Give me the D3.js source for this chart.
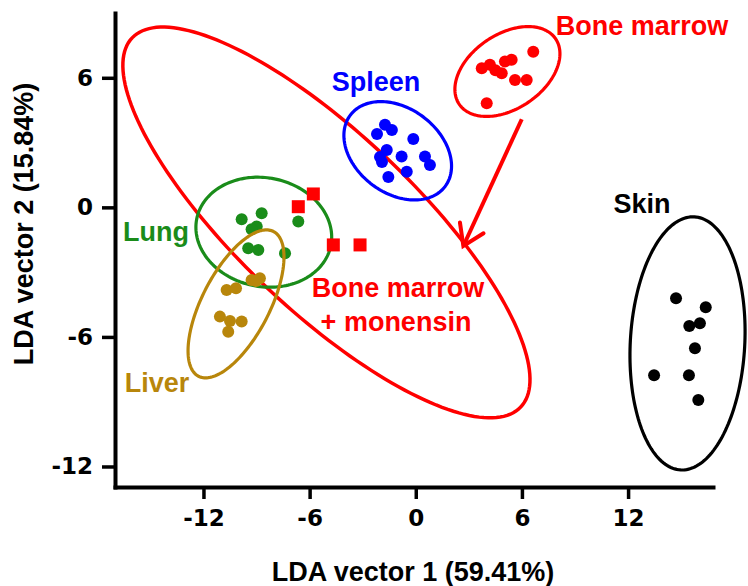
<!DOCTYPE html>
<html>
<head>
<meta charset="utf-8">
<script src="https://cdn.jsdelivr.net/npm/d3@7"></script>
<style>
  body { margin: 0; background: #fff; }
  svg { display: block; }
</style>
</head>
<body>
<div class="chart"></div>
<script>
// LDA scatter of tissue groups with confidence ellipses

// axis ticks
var xTicks = [-12, -6, 0, 6, 12];
var yTicks = [-12, -6, 0, 6];

// points [LDA1, LDA2]
var boneMarrow = [[6.64, 7.21], [3.73, 6.44], [4.19, 6.60], [5.04, 6.75], [5.42, 6.83],
                  [4.86, 6.21], [5.61, 5.90], [6.27, 5.90], [4.01, 4.82], [4.50, 6.35]];
var spleen = [[-1.74, 3.82], [-1.35, 3.58], [-2.19, 3.40], [-0.14, 3.17], [-1.64, 2.66],
              [-2.02, 2.33], [-1.91, 2.10], [-0.80, 2.35], [0.52, 2.35], [0.80, 1.96],
              [-0.51, 1.65], [-1.55, 1.41]];
var lung = [[-9.84, -0.55], [-8.71, -0.27], [-8.99, -0.89], [-9.28, -1.01],
            [-9.47, -1.89], [-8.90, -1.97], [-7.39, -2.13], [-6.64, -0.66]];
var liver = [[-9.28, -3.36], [-8.81, -3.28], [-10.69, -3.83], [-10.16, -3.75], [-9.03, -3.41],
             [-11.07, -5.06], [-10.50, -5.26], [-9.84, -5.29], [-10.60, -5.76]];
var skin = [[14.71, -4.21], [16.39, -4.63], [15.46, -5.49], [16.06, -5.37],
            [15.78, -6.53], [13.47, -7.78], [15.44, -7.78], [15.97, -8.92]];
var monensin = [[-5.79, 0.62], [-6.64, 0.03], [-4.66, -1.74], [-3.15, -1.74]];

// ellipses: centre x, centre y, then two conjugate half-axes (ux, uy, vx, vy), data units
var ellBoneMarrow = [5.18, 6.29, 2.72, 1.52, 1.19, -1.42];
var ellSpleen = [-1.02, 2.62, 2.68, -1.65, -1.44, -1.57];
var ellLung = [-8.59, -1.15, 3.79, -0.62, -0.60, -2.47];
var ellLiver = [-10.16, -4.47, 2.12, 3.35, 1.69, -0.72];
var ellSkin = [15.36, -6.30, 0.39, 5.86, 3.23, -0.15];
var ellMonensin = [-5.05, -0.70, 10.98, -8.55, -3.44, -2.96];

// arrow from bone marrow to bone marrow + monensin
var arrowFrom = [5.99, 4.08];
var arrowTo = [2.69, -1.79];

var width = 748, height = 586;
var labelFont = "'Liberation Sans', Arial, sans-serif";

var svg = d3.select(".chart").append("svg")
    .attr("width", width)
    .attr("height", height);

var x = d3.scaleLinear().domain([-17, 16.8]).range([115, 713]),
    y = d3.scaleLinear().domain([-12.95, 9]).range([487, 13]);

var groups = [
  {pts: boneMarrow, ell: ellBoneMarrow, color: "#ff0000"},
  {pts: spleen, ell: ellSpleen, color: "#0000ff"},
  {pts: lung, ell: ellLung, color: "#1a8c1a"},
  {pts: liver, ell: ellLiver, color: "#b8860b"},
  {pts: skin, ell: ellSkin, color: "#000000"}
];

var line = d3.line()
    .x(function(d) { return x(d[0]); })
    .y(function(d) { return y(d[1]); })
    .curve(d3.curveLinearClosed);

function ellipsePoints(e) {
  return d3.range(0, 2 * Math.PI, Math.PI / 90).map(function(t) {
    return [e[0] + e[2] * Math.cos(t) + e[4] * Math.sin(t),
            e[1] + e[3] * Math.cos(t) + e[5] * Math.sin(t)];
  });
}

// big ellipse first
svg.append("path")
    .attr("d", line(ellipsePoints(ellMonensin)))
    .attr("fill", "none")
    .attr("stroke", "#ff0000")
    .attr("stroke-width", 3.5);

groups.forEach(function(g) {
  svg.append("path")
      .attr("d", line(ellipsePoints(g.ell)))
      .attr("fill", "none")
      .attr("stroke", g.color)
      .attr("stroke-width", 3.2);

  svg.append("g").selectAll("circle")
      .data(g.pts)
      .enter().append("circle")
        .attr("cx", function(d) { return x(d[0]); })
        .attr("cy", function(d) { return y(d[1]); })
        .attr("r", 6)
        .attr("fill", g.color);
});

svg.append("g").selectAll("rect")
    .data(monensin)
    .enter().append("rect")
      .attr("x", function(d) { return x(d[0]) - 6.5; })
      .attr("y", function(d) { return y(d[1]) - 6.5; })
      .attr("width", 13)
      .attr("height", 13)
      .attr("fill", "#ff0000");

// arrow
svg.append("defs").append("marker")
    .attr("id", "head")
    .attr("markerUnits", "userSpaceOnUse")
    .attr("viewBox", "-24 -16 28 32")
    .attr("markerWidth", 28)
    .attr("markerHeight", 32)
    .attr("refX", 0)
    .attr("refY", 0)
    .attr("orient", "auto")
  .append("path")
    .attr("d", "M-20,-13L0,0L-20,13")
    .attr("fill", "none")
    .attr("stroke", "#ff0000")
    .attr("stroke-width", 4)
    .attr("stroke-linecap", "round");

svg.append("line")
    .attr("x1", x(arrowFrom[0])).attr("y1", y(arrowFrom[1]))
    .attr("x2", x(arrowTo[0])).attr("y2", y(arrowTo[1]))
    .attr("stroke", "#ff0000")
    .attr("stroke-width", 4)
    .attr("marker-end", "url(#head)");

// axes (plain hyphen for negatives, like the original)
var fmt = function(d) { return String(d); };
var xAxis = svg.append("g")
    .attr("transform", "translate(0," + y.range()[0] + ")")
    .call(d3.axisBottom(x).tickValues(xTicks).tickFormat(fmt)
      .tickSize(12).tickSizeOuter(0).tickPadding(11));
var yAxis = svg.append("g")
    .attr("transform", "translate(" + x.range()[0] + ",0)")
    .call(d3.axisLeft(y).tickValues(yTicks).tickFormat(fmt)
      .tickSize(13).tickSizeOuter(0).tickPadding(9));

[xAxis, yAxis].forEach(function(a) {
  a.attr("font-family", "'DejaVu Sans', sans-serif")
   .attr("font-size", 23)
   .attr("font-weight", "bold");
  a.select(".domain").attr("stroke-width", 4).attr("stroke-linecap", "square");
  a.selectAll(".tick line").attr("stroke-width", 3.5);
  a.selectAll(".tick text").attr("fill", "#000");
});

svg.append("text")
    .attr("x", 413)
    .attr("y", 581)
    .attr("text-anchor", "middle")
    .style("font-family", labelFont)
    .style("font-size", "27px")
    .style("font-weight", "bold")
    .text("LDA vector 1 (59.41%)");

svg.append("text")
    .attr("transform", "translate(33,224) rotate(-90)")
    .attr("text-anchor", "middle")
    .style("font-family", labelFont)
    .style("font-size", "27px")
    .style("font-weight", "bold")
    .text("LDA vector 2 (15.84%)");

// group labels
var labels = [
  {text: "Bone marrow", x: 642, y: 35, color: "#ff0000"},
  {text: "Spleen", x: 376, y: 91, color: "#0000ff"},
  {text: "Lung", x: 156, y: 241, color: "#1a8c1a"},
  {text: "Liver", x: 157, y: 392, color: "#b8860b"},
  {text: "Skin", x: 642, y: 213, color: "#000000"},
  {text: "Bone marrow", x: 398, y: 297, color: "#ff0000"},
  {text: "+ monensin", x: 396, y: 331, color: "#ff0000"}
];

svg.append("g").selectAll("text")
    .data(labels)
    .enter().append("text")
      .attr("x", function(d) { return d.x; })
      .attr("y", function(d) { return d.y; })
      .attr("text-anchor", "middle")
      .attr("fill", function(d) { return d.color; })
      .style("font-family", labelFont)
      .style("font-size", "27px")
      .style("font-weight", "bold")
      .text(function(d) { return d.text; });
</script>
</body>
</html>
